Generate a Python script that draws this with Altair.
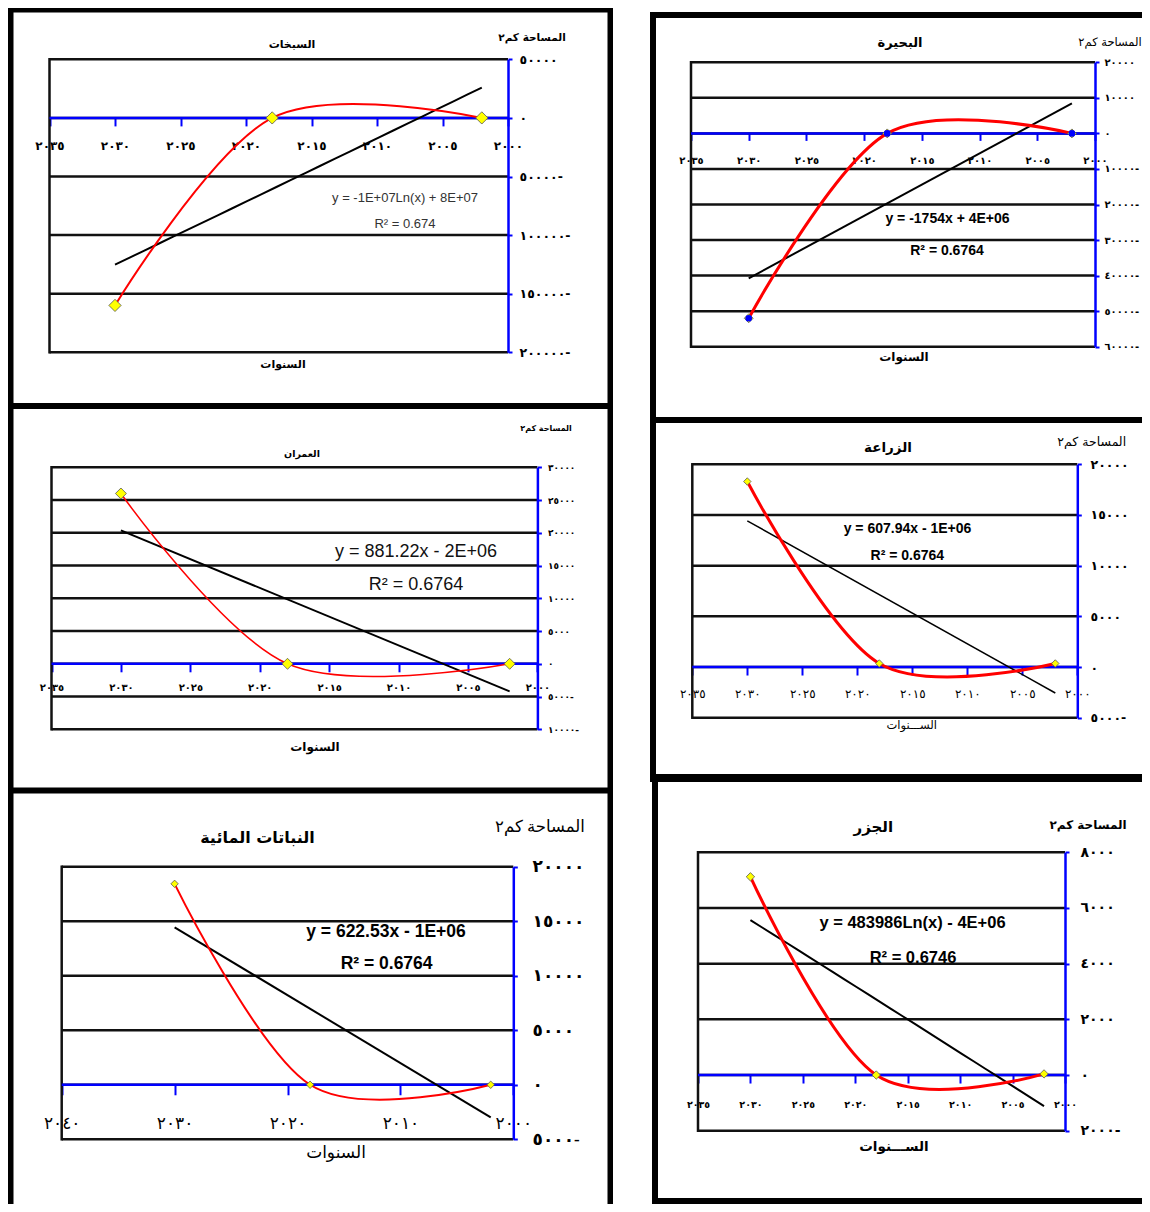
import altair as alt
import pandas as pd

# ---------------- data ----------------
YEARS = [2030, 2018, 2002]
SABKHA = [-160000, 0, 0]
LAKE = [-52000, 0, 0]
URBAN = [26000, 0, 0]
AGRI = [18300, 350, 350]
AQUATIC = [18430, 0, 0]
ISLANDS = [7120, 0, 40]

UNIT_LABEL = "المساحة كم٢"
X_TITLE = "السنوات"
X_TITLE_LONG = "الســـنوات"
TITLE_SABKHA = "السبخات"
TITLE_LAKE = "البحيرة"
TITLE_URBAN = "العمران"
TITLE_AGRI = "الزراعة"
TITLE_AQUATIC = "النباتات المائية"
TITLE_ISLANDS = "الجزر"

X_TICKS_5 = [2000, 2005, 2010, 2015, 2020, 2025, 2030, 2035]
X_TICKS_10 = [2000, 2010, 2020, 2030, 2040]
Y_TICKS_SABKHA = [-200000, -150000, -100000, -50000, 0, 50000]
Y_TICKS_LAKE = [-60000, -50000, -40000, -30000, -20000, -10000, 0, 10000, 20000]
Y_TICKS_URBAN = [-10000, -5000, 0, 5000, 10000, 15000, 20000, 25000, 30000]
Y_TICKS_AGRI = [-5000, 0, 5000, 10000, 15000, 20000]
Y_TICKS_AQUATIC = [-5000, 0, 5000, 10000, 15000, 20000]
Y_TICKS_ISLANDS = [-2000, 0, 2000, 4000, 6000, 8000]

EQ_SABKHA = ["y = -1E+07Ln(x) + 8E+07", "R² = 0.674"]
EQ_LAKE = ["y = -1754x + 4E+06", "R² = 0.6764"]
EQ_URBAN = ["y = 881.22x - 2E+06", "R² = 0.6764"]
EQ_AGRI = ["y = 607.94x - 1E+06", "R² = 0.6764"]
EQ_AQUATIC = ["y = 622.53x - 1E+06", "R² = 0.6764"]
EQ_ISLANDS = ["y = 483986Ln(x) - 4E+06", "R² = 0.6746"]

AR_DIGITS = "٠١٢٣٤٥٦٧٨٩"
AR = "DejaVu Sans"
EQF = "Liberation Sans"
SERIF = "Liberation Serif, DejaVu Sans"
BLUE = "#0000ff"

OFF = 8                    # page margin
TOTAL_W, TOTAL_H = 1134, 1196


def ar_expr():
    s = "toString(abs(datum.value))"
    for i, d in enumerate(AR_DIGITS):
        s = f"replace({s}, regexp('{i}', 'g'), '{d}')"
    return f"{s} + (datum.value < 0 ? '-' : '')"


AR_EXPR = ar_expr()
ONE = pd.DataFrame({"k": [0]})


def g(v):
    return v - OFF


def panel_layers(c):
    px0, py0, px1, py1 = [g(v) for v in c["plot"]]
    ymin, ymax = c["ydom"]
    xl, xr = c["xdom"]          # value at left edge, value at right edge
    xs = alt.Scale(domain=[xr, xl], range=[px1, px0], nice=False, zero=False)
    ys = alt.Scale(domain=[ymin, ymax], range=[py1, py0], nice=False, zero=False)
    zero_y = py1 - (0 - ymin) / (ymax - ymin) * (py1 - py0)

    xaxis = alt.Axis(
        values=c["xticks"], labelExpr=AR_EXPR, orient="bottom", offset=zero_y - TOTAL_H,
        domain=False, grid=False, ticks=True, tickColor=BLUE, tickSize=c["xtick"], tickWidth=2,
        labelPadding=c["xpad"], labelBaseline="middle", labelFont=c["xfont"],
        labelFontSize=c["xfs"], labelFontWeight=c["xfw"], labelColor="black",
        labelOverlap=False, labelFlush=False, title=None,
    )
    yaxis = alt.Axis(
        values=c["yticks"], labelExpr=AR_EXPR, orient="right", offset=px1 - TOTAL_W,
        domain=True, domainColor=BLUE, domainWidth=2.5, tickColor=BLUE, tickSize=4, tickWidth=2,
        grid=False, labelPadding=c["ypad"], labelAlign="left", labelBaseline="middle",
        labelFont=c["yfont"], labelFontSize=c["yfs"], labelFontWeight="bold", labelColor="black",
        labelOverlap=False, labelFlush=False, title=None, zindex=1,
    )
    Xn = alt.X("yr:Q", scale=xs, axis=None)
    Yn = alt.Y("val:Q", scale=ys, axis=None)
    Xa = alt.X("yr:Q", scale=xs, axis=xaxis)
    Ya = alt.Y("val:Q", scale=ys, axis=yaxis)

    df = pd.DataFrame({"yr": YEARS, "val": c["vals"]})
    layers = []

    # panel frame (absolute position of the boxed figure)
    fx0, fy0, fx1, fy1 = [g(v) for v in c["frame"]]
    sw = c["sw"]
    h = sw / 2
    rk = dict(color="black", strokeWidth=sw, strokeCap="square")
    layers.append(alt.Chart(ONE).mark_rule(**rk).encode(
        x=alt.value(fx0 + h), x2=alt.value(fx1 - h), y=alt.value(fy0 + h)))
    layers.append(alt.Chart(ONE).mark_rule(**rk).encode(
        x=alt.value(fx0 + h), x2=alt.value(fx1 - h), y=alt.value(fy1 - h)))
    layers.append(alt.Chart(ONE).mark_rule(**rk).encode(
        x=alt.value(fx0 + h), y=alt.value(fy0 + h), y2=alt.value(fy1 - h)))
    layers.append(alt.Chart(ONE).mark_rule(**rk).encode(
        x=alt.value(fx1 - h), y=alt.value(fy0 + h), y2=alt.value(fy1 - h)))

    # horizontal grid lines at the tick values
    grid = pd.DataFrame({"val": c["yticks"], "x0": [xl] * len(c["yticks"]),
                         "x1": [xr] * len(c["yticks"])})
    layers.append(alt.Chart(grid).mark_rule(color="#111111", strokeWidth=c["gw"]).encode(
        x=alt.X("x0:Q", scale=xs, axis=None), x2="x1:Q", y=Yn))
    # left border of the plot area
    lb = pd.DataFrame({"yr": [xl], "v0": [ymin], "v1": [ymax]})
    layers.append(alt.Chart(lb).mark_rule(color="#111111", strokeWidth=c["gw"],
                                          strokeCap="square").encode(
        x=Xn, y=alt.Y("v0:Q", scale=ys, axis=None), y2="v1:Q"))
    # zero line
    zl = pd.DataFrame({"val": [0], "x0": [xl], "x1": [xr]})
    layers.append(alt.Chart(zl).mark_rule(color=BLUE, strokeWidth=2.5).encode(
        x=alt.X("x0:Q", scale=xs, axis=None), x2="x1:Q", y=Yn))
    # trend line (least squares, as in the original)
    layers.append(alt.Chart(df).transform_regression(
        "yr", "val", method=c["method"]).mark_line(
        color="black", strokeWidth=c["bw"]).encode(x=Xn, y=Yn))
    # smoothed series (carries the axes)
    layers.append(alt.Chart(df).mark_line(
        color="#ff0000", strokeWidth=c["rw"], interpolate="cardinal").encode(x=Xa, y=Ya))
    # markers
    layers.append(alt.Chart(df).mark_point(
        shape="diamond", filled=True, fill="#ffff00", stroke="#555555", strokeWidth=0.8,
        opacity=1, size=c["ms"]).encode(x=Xn, y=Yn))
    if c.get("blue"):
        layers.append(alt.Chart(df).mark_point(
            shape="circle", filled=True, fill=BLUE, opacity=1, size=c["blue"]).encode(x=Xn, y=Yn))

    # texts
    for (txt, x, y, fs, fw, font, col) in c["texts"]:
        layers.append(alt.Chart(ONE).mark_text(
            text=txt, font=font, fontSize=fs, fontWeight=fw, color=col,
            align="center", baseline="middle").encode(x=alt.value(g(x)), y=alt.value(g(y))))
    return layers


P1 = dict(
    vals=SABKHA, plot=(49.5, 59.3, 508, 352.3), frame=(8, 7, 613, 409), sw=5.5,
    ydom=(-200000, 50000), yticks=Y_TICKS_SABKHA, xdom=(2035, 2000), xticks=X_TICKS_5,
    xtick=8, xpad=20, xfont=AR, xfs=12, xfw="bold", ypad=7, yfont=AR, yfs=12.5, gw=2.5,
    method="log", bw=2, rw=2, ms=150,
    texts=[
        (TITLE_SABKHA, 292, 45, 11, "bold", AR, "black"),
        (UNIT_LABEL, 532, 38, 10.5, "bold", AR, "black"),
        (X_TITLE, 283, 365, 11, "bold", AR, "black"),
        (EQ_SABKHA[0], 405, 198, 13, "normal", EQF, "#333333"),
        (EQ_SABKHA[1], 405, 224, 13, "normal", EQF, "#333333"),
    ],
)
P2 = dict(
    vals=LAKE, plot=(691, 62.3, 1095, 346.7), frame=(650, 12, 1175, 423), sw=6,
    ydom=(-60000, 20000), yticks=Y_TICKS_LAKE, xdom=(2035, 2000), xticks=X_TICKS_5,
    xtick=7, xpad=20, xfont=AR, xfs=10, xfw="bold", ypad=5, yfont=AR, yfs=10, gw=2.5,
    method="linear", bw=2, rw=3, ms=80, blue=45,
    texts=[
        (TITLE_LAKE, 900, 43, 13, "bold", AR, "black"),
        (UNIT_LABEL, 1110, 43, 11.5, "normal", AR, "black"),
        (X_TITLE, 904, 357, 12, "bold", AR, "black"),
        (EQ_LAKE[0], 947.5, 219.3, 14, "bold", EQF, "black"),
        (EQ_LAKE[1], 947, 250.7, 14, "bold", EQF, "black"),
    ],
)
P3 = dict(
    vals=URBAN, plot=(51.5, 467.3, 537.4, 729.3), frame=(8, 403, 613, 793), sw=5.5,
    ydom=(-10000, 30000), yticks=Y_TICKS_URBAN, xdom=(2035, 2000), xticks=X_TICKS_5,
    xtick=8, xpad=16, xfont=AR, xfs=10, xfw="bold", ypad=6, yfont=AR, yfs=9, gw=2.5,
    method="linear", bw=2, rw=1.5, ms=120,
    texts=[
        (TITLE_URBAN, 302, 454.3, 9.5, "bold", AR, "black"),
        (UNIT_LABEL, 546, 429, 8, "bold", AR, "black"),
        (X_TITLE, 315, 746.7, 12, "bold", AR, "black"),
        (EQ_URBAN[0], 416, 551.7, 18, "normal", EQF, "#111111"),
        (EQ_URBAN[1], 416, 585, 18, "normal", EQF, "#111111"),
    ],
)
P4 = dict(
    vals=AGRI, plot=(692.3, 464.3, 1077.3, 717.7), frame=(650, 417, 1175, 782), sw=6,
    ydom=(-5000, 20000), yticks=Y_TICKS_AGRI, xdom=(2035, 2000), xticks=X_TICKS_5,
    xtick=8, xpad=18, xfont=AR, xfs=12, xfw="normal", ypad=8.7, yfont=AR, yfs=12.5, gw=2.5,
    method="linear", bw=1.5, rw=3, ms=55,
    texts=[
        (TITLE_AGRI, 888, 448, 13.5, "bold", AR, "black"),
        (UNIT_LABEL, 1091.7, 441.7, 12.5, "normal", AR, "black"),
        (X_TITLE_LONG, 911.7, 726, 11.5, "normal", AR, "black"),
        (EQ_AGRI[0], 907.5, 529.3, 14, "bold", EQF, "black"),
        (EQ_AGRI[1], 907.3, 556, 14, "bold", EQF, "black"),
    ],
)
P5 = dict(
    vals=AQUATIC, plot=(61.7, 866.7, 513.3, 1139.3), frame=(8, 788, 613, 1235), sw=5.5,
    ydom=(-5000, 20000), yticks=Y_TICKS_AQUATIC, xdom=(2040, 2000), xticks=X_TICKS_10,
    xtick=10, xpad=28.6, xfont=SERIF, xfs=17, xfw="normal", ypad=14.7, yfont=SERIF, yfs=17, gw=2.5,
    method="linear", bw=2, rw=2, ms=55,
    texts=[
        (TITLE_AQUATIC, 257.5, 838.3, 16, "bold", AR, "black"),
        (UNIT_LABEL, 540, 826.7, 16.5, "normal", SERIF, "black"),
        (X_TITLE, 336, 1153.3, 17, "normal", SERIF, "black"),
        (EQ_AQUATIC[0], 386, 931.7, 17.5, "bold", EQF, "black"),
        (EQ_AQUATIC[1], 386.6, 964, 17.5, "bold", EQF, "black"),
    ],
)
P6 = dict(
    vals=ISLANDS, plot=(698, 852.3, 1065, 1130.7), frame=(652, 774, 1175, 1204), sw=6,
    ydom=(-2000, 8000), yticks=Y_TICKS_ISLANDS, xdom=(2035, 2000), xticks=X_TICKS_5,
    xtick=8, xpad=21, xfont=AR, xfs=9.5, xfw="bold", ypad=11, yfont=AR, yfs=14, gw=2.5,
    method="log", bw=2, rw=3, ms=70,
    texts=[
        (TITLE_ISLANDS, 873.3, 826.7, 15, "bold", AR, "black"),
        (UNIT_LABEL, 1088, 825, 12, "bold", AR, "black"),
        (X_TITLE_LONG, 894, 1146.7, 13.5, "bold", AR, "black"),
        (EQ_ISLANDS[0], 912.5, 923.3, 16.5, "bold", EQF, "black"),
        (EQ_ISLANDS[1], 913, 957.7, 16.5, "bold", EQF, "black"),
    ],
)

all_layers = []
for cfg in (P1, P3, P5, P2, P4, P6):
    all_layers.extend(panel_layers(cfg))

chart = alt.layer(*all_layers).resolve_scale(
    x="independent", y="independent"
).resolve_axis(
    x="independent", y="independent"
).properties(
    width=TOTAL_W, height=TOTAL_H, padding=0, background="white",
    autosize=alt.AutoSizeParams(type="none"),
).configure_view(stroke=None)

chart.save("out.html", embed_options={"renderer": "svg", "actions": False})
